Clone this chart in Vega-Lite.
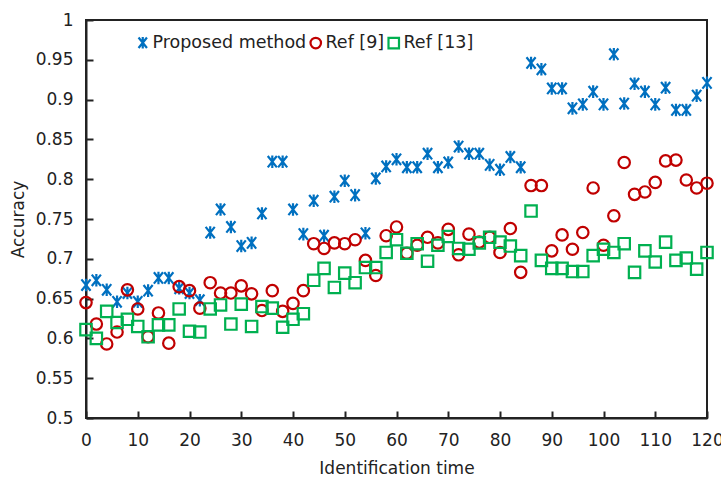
{
  "$schema": "https://vega.github.io/schema/vega-lite/v6.json",
  "width": 621,
  "height": 398,
  "autosize": {"type": "none"},
  "padding": {"left": 86, "top": 20, "right": 14, "bottom": 60},
  "background": "white",
  "config": {
    "font": "DejaVu Sans",
    "view": {"stroke": "#222", "strokeWidth": 2},
    "axis": {
      "domainColor": "#222", "domainWidth": 2, "ticks": true,
      "tickColor": "#222", "tickWidth": 2, "tickSize": -7, "tickOpacity": 1,
      "grid": false, "zindex": 1, "labelFlush": false,
      "labelFont": "DejaVu Sans", "labelFontSize": 17, "labelColor": "#222",
      "titleFont": "DejaVu Sans", "titleFontSize": 17, "titleColor": "#222", "titleFontWeight": "normal"
    },
    "legend": {
      "labelFont": "DejaVu Sans", "labelFontSize": 17.5, "labelColor": "#222"
    }
  },
  "data": {"values": [
    {"t":0,"acc":0.667,"m":"Proposed method"},{"t":2,"acc":0.673,"m":"Proposed method"},{"t":4,"acc":0.661,"m":"Proposed method"},{"t":6,"acc":0.646,"m":"Proposed method"},{"t":8,"acc":0.657,"m":"Proposed method"},{"t":10,"acc":0.646,"m":"Proposed method"},{"t":12,"acc":0.66,"m":"Proposed method"},{"t":14,"acc":0.676,"m":"Proposed method"},{"t":16,"acc":0.676,"m":"Proposed method"},{"t":18,"acc":0.663,"m":"Proposed method"},{"t":20,"acc":0.657,"m":"Proposed method"},{"t":22,"acc":0.648,"m":"Proposed method"},{"t":24,"acc":0.733,"m":"Proposed method"},{"t":26,"acc":0.762,"m":"Proposed method"},{"t":28,"acc":0.74,"m":"Proposed method"},{"t":30,"acc":0.716,"m":"Proposed method"},{"t":32,"acc":0.72,"m":"Proposed method"},{"t":34,"acc":0.757,"m":"Proposed method"},{"t":36,"acc":0.822,"m":"Proposed method"},{"t":38,"acc":0.822,"m":"Proposed method"},{"t":40,"acc":0.762,"m":"Proposed method"},{"t":42,"acc":0.731,"m":"Proposed method"},{"t":44,"acc":0.773,"m":"Proposed method"},{"t":46,"acc":0.729,"m":"Proposed method"},{"t":48,"acc":0.778,"m":"Proposed method"},{"t":50,"acc":0.798,"m":"Proposed method"},{"t":52,"acc":0.78,"m":"Proposed method"},{"t":54,"acc":0.732,"m":"Proposed method"},{"t":56,"acc":0.801,"m":"Proposed method"},{"t":58,"acc":0.816,"m":"Proposed method"},{"t":60,"acc":0.825,"m":"Proposed method"},{"t":62,"acc":0.815,"m":"Proposed method"},{"t":64,"acc":0.815,"m":"Proposed method"},{"t":66,"acc":0.832,"m":"Proposed method"},{"t":68,"acc":0.815,"m":"Proposed method"},{"t":70,"acc":0.821,"m":"Proposed method"},{"t":72,"acc":0.841,"m":"Proposed method"},{"t":74,"acc":0.832,"m":"Proposed method"},{"t":76,"acc":0.832,"m":"Proposed method"},{"t":78,"acc":0.818,"m":"Proposed method"},{"t":80,"acc":0.812,"m":"Proposed method"},{"t":82,"acc":0.828,"m":"Proposed method"},{"t":84,"acc":0.815,"m":"Proposed method"},{"t":86,"acc":0.946,"m":"Proposed method"},{"t":88,"acc":0.938,"m":"Proposed method"},{"t":90,"acc":0.914,"m":"Proposed method"},{"t":92,"acc":0.914,"m":"Proposed method"},{"t":94,"acc":0.889,"m":"Proposed method"},{"t":96,"acc":0.894,"m":"Proposed method"},{"t":98,"acc":0.91,"m":"Proposed method"},{"t":100,"acc":0.894,"m":"Proposed method"},{"t":102,"acc":0.957,"m":"Proposed method"},{"t":104,"acc":0.895,"m":"Proposed method"},{"t":106,"acc":0.92,"m":"Proposed method"},{"t":108,"acc":0.91,"m":"Proposed method"},{"t":110,"acc":0.894,"m":"Proposed method"},{"t":112,"acc":0.915,"m":"Proposed method"},{"t":114,"acc":0.887,"m":"Proposed method"},{"t":116,"acc":0.887,"m":"Proposed method"},{"t":118,"acc":0.905,"m":"Proposed method"},{"t":120,"acc":0.921,"m":"Proposed method"},
    {"t":0,"acc":0.645,"m":"Ref [9]"},{"t":2,"acc":0.618,"m":"Ref [9]"},{"t":4,"acc":0.593,"m":"Ref [9]"},{"t":6,"acc":0.608,"m":"Ref [9]"},{"t":8,"acc":0.661,"m":"Ref [9]"},{"t":10,"acc":0.637,"m":"Ref [9]"},{"t":12,"acc":0.602,"m":"Ref [9]"},{"t":14,"acc":0.632,"m":"Ref [9]"},{"t":16,"acc":0.594,"m":"Ref [9]"},{"t":18,"acc":0.665,"m":"Ref [9]"},{"t":20,"acc":0.66,"m":"Ref [9]"},{"t":22,"acc":0.638,"m":"Ref [9]"},{"t":24,"acc":0.67,"m":"Ref [9]"},{"t":26,"acc":0.657,"m":"Ref [9]"},{"t":28,"acc":0.657,"m":"Ref [9]"},{"t":30,"acc":0.666,"m":"Ref [9]"},{"t":32,"acc":0.656,"m":"Ref [9]"},{"t":34,"acc":0.635,"m":"Ref [9]"},{"t":36,"acc":0.66,"m":"Ref [9]"},{"t":38,"acc":0.634,"m":"Ref [9]"},{"t":40,"acc":0.644,"m":"Ref [9]"},{"t":42,"acc":0.66,"m":"Ref [9]"},{"t":44,"acc":0.719,"m":"Ref [9]"},{"t":46,"acc":0.713,"m":"Ref [9]"},{"t":48,"acc":0.72,"m":"Ref [9]"},{"t":50,"acc":0.719,"m":"Ref [9]"},{"t":52,"acc":0.724,"m":"Ref [9]"},{"t":54,"acc":0.698,"m":"Ref [9]"},{"t":56,"acc":0.679,"m":"Ref [9]"},{"t":58,"acc":0.729,"m":"Ref [9]"},{"t":60,"acc":0.74,"m":"Ref [9]"},{"t":62,"acc":0.707,"m":"Ref [9]"},{"t":64,"acc":0.717,"m":"Ref [9]"},{"t":66,"acc":0.727,"m":"Ref [9]"},{"t":68,"acc":0.72,"m":"Ref [9]"},{"t":70,"acc":0.737,"m":"Ref [9]"},{"t":72,"acc":0.705,"m":"Ref [9]"},{"t":74,"acc":0.731,"m":"Ref [9]"},{"t":76,"acc":0.721,"m":"Ref [9]"},{"t":78,"acc":0.727,"m":"Ref [9]"},{"t":80,"acc":0.708,"m":"Ref [9]"},{"t":82,"acc":0.738,"m":"Ref [9]"},{"t":84,"acc":0.683,"m":"Ref [9]"},{"t":86,"acc":0.792,"m":"Ref [9]"},{"t":88,"acc":0.792,"m":"Ref [9]"},{"t":90,"acc":0.71,"m":"Ref [9]"},{"t":92,"acc":0.73,"m":"Ref [9]"},{"t":94,"acc":0.712,"m":"Ref [9]"},{"t":96,"acc":0.733,"m":"Ref [9]"},{"t":98,"acc":0.789,"m":"Ref [9]"},{"t":100,"acc":0.717,"m":"Ref [9]"},{"t":102,"acc":0.754,"m":"Ref [9]"},{"t":104,"acc":0.821,"m":"Ref [9]"},{"t":106,"acc":0.781,"m":"Ref [9]"},{"t":108,"acc":0.784,"m":"Ref [9]"},{"t":110,"acc":0.796,"m":"Ref [9]"},{"t":112,"acc":0.823,"m":"Ref [9]"},{"t":114,"acc":0.824,"m":"Ref [9]"},{"t":116,"acc":0.799,"m":"Ref [9]"},{"t":118,"acc":0.789,"m":"Ref [9]"},{"t":120,"acc":0.795,"m":"Ref [9]"},
    {"t":0,"acc":0.611,"m":"Ref [13]"},{"t":2,"acc":0.6,"m":"Ref [13]"},{"t":4,"acc":0.634,"m":"Ref [13]"},{"t":6,"acc":0.62,"m":"Ref [13]"},{"t":8,"acc":0.624,"m":"Ref [13]"},{"t":10,"acc":0.615,"m":"Ref [13]"},{"t":12,"acc":0.602,"m":"Ref [13]"},{"t":14,"acc":0.617,"m":"Ref [13]"},{"t":16,"acc":0.617,"m":"Ref [13]"},{"t":18,"acc":0.637,"m":"Ref [13]"},{"t":20,"acc":0.609,"m":"Ref [13]"},{"t":22,"acc":0.608,"m":"Ref [13]"},{"t":24,"acc":0.637,"m":"Ref [13]"},{"t":26,"acc":0.642,"m":"Ref [13]"},{"t":28,"acc":0.618,"m":"Ref [13]"},{"t":30,"acc":0.643,"m":"Ref [13]"},{"t":32,"acc":0.615,"m":"Ref [13]"},{"t":34,"acc":0.64,"m":"Ref [13]"},{"t":36,"acc":0.638,"m":"Ref [13]"},{"t":38,"acc":0.614,"m":"Ref [13]"},{"t":40,"acc":0.624,"m":"Ref [13]"},{"t":42,"acc":0.631,"m":"Ref [13]"},{"t":44,"acc":0.673,"m":"Ref [13]"},{"t":46,"acc":0.688,"m":"Ref [13]"},{"t":48,"acc":0.664,"m":"Ref [13]"},{"t":50,"acc":0.682,"m":"Ref [13]"},{"t":52,"acc":0.67,"m":"Ref [13]"},{"t":54,"acc":0.689,"m":"Ref [13]"},{"t":56,"acc":0.689,"m":"Ref [13]"},{"t":58,"acc":0.708,"m":"Ref [13]"},{"t":60,"acc":0.724,"m":"Ref [13]"},{"t":62,"acc":0.707,"m":"Ref [13]"},{"t":64,"acc":0.719,"m":"Ref [13]"},{"t":66,"acc":0.697,"m":"Ref [13]"},{"t":68,"acc":0.717,"m":"Ref [13]"},{"t":70,"acc":0.728,"m":"Ref [13]"},{"t":72,"acc":0.713,"m":"Ref [13]"},{"t":74,"acc":0.712,"m":"Ref [13]"},{"t":76,"acc":0.72,"m":"Ref [13]"},{"t":78,"acc":0.727,"m":"Ref [13]"},{"t":80,"acc":0.721,"m":"Ref [13]"},{"t":82,"acc":0.716,"m":"Ref [13]"},{"t":84,"acc":0.704,"m":"Ref [13]"},{"t":86,"acc":0.76,"m":"Ref [13]"},{"t":88,"acc":0.698,"m":"Ref [13]"},{"t":90,"acc":0.688,"m":"Ref [13]"},{"t":92,"acc":0.688,"m":"Ref [13]"},{"t":94,"acc":0.684,"m":"Ref [13]"},{"t":96,"acc":0.684,"m":"Ref [13]"},{"t":98,"acc":0.704,"m":"Ref [13]"},{"t":100,"acc":0.712,"m":"Ref [13]"},{"t":102,"acc":0.708,"m":"Ref [13]"},{"t":104,"acc":0.719,"m":"Ref [13]"},{"t":106,"acc":0.683,"m":"Ref [13]"},{"t":108,"acc":0.71,"m":"Ref [13]"},{"t":110,"acc":0.696,"m":"Ref [13]"},{"t":112,"acc":0.721,"m":"Ref [13]"},{"t":114,"acc":0.698,"m":"Ref [13]"},{"t":116,"acc":0.701,"m":"Ref [13]"},{"t":118,"acc":0.687,"m":"Ref [13]"},{"t":120,"acc":0.708,"m":"Ref [13]"}
  ]},
  "mark": {"type": "point", "filled": false, "strokeWidth": 2.2, "size": 130, "opacity": 1, "clip": false},
  "encoding": {
    "x": {
      "field": "t", "type": "quantitative",
      "scale": {"domain": [0, 120], "nice": false, "zero": false},
      "axis": {"values": [0,10,20,30,40,50,60,70,80,90,100,110,120], "title": "Identification time", "labelPadding": 21, "titleY": 50, "titleBaseline": "middle"}
    },
    "y": {
      "field": "acc", "type": "quantitative",
      "scale": {"domain": [0.5, 1], "nice": false, "zero": false},
      "axis": {"values": [0.5,0.55,0.6,0.65,0.7,0.75,0.8,0.85,0.9,0.95,1], "format": ".2~f", "title": "Accuracy", "labelPadding": 20, "titleX": -68, "titleY": 199, "titleBaseline": "middle", "titleAngle": -90}
    },
    "color": {
      "field": "m", "type": "nominal",
      "scale": {"domain": ["Proposed method", "Ref [9]", "Ref [13]"], "range": ["#0070C0", "#C00000", "#00B050"]},
      "legend": {"title": null, "orient": "none", "direction": "horizontal", "legendX": 48, "legendY": 14, "columnPadding": -1, "labelOffset": 1, "symbolSize": 110, "symbolStrokeWidth": 2.2}
    },
    "shape": {
      "field": "m", "type": "nominal",
      "scale": {"domain": ["Proposed method", "Ref [9]", "Ref [13]"], "range": ["M-0.8,-1L0.8,1M-0.8,1L0.8,-1M0,-1.1L0,1.1", "circle", "square"]},
      "legend": {"title": null, "orient": "none", "direction": "horizontal", "legendX": 48, "legendY": 14, "columnPadding": -1, "labelOffset": 1, "symbolSize": 110, "symbolStrokeWidth": 2.2}
    }
  }
}
